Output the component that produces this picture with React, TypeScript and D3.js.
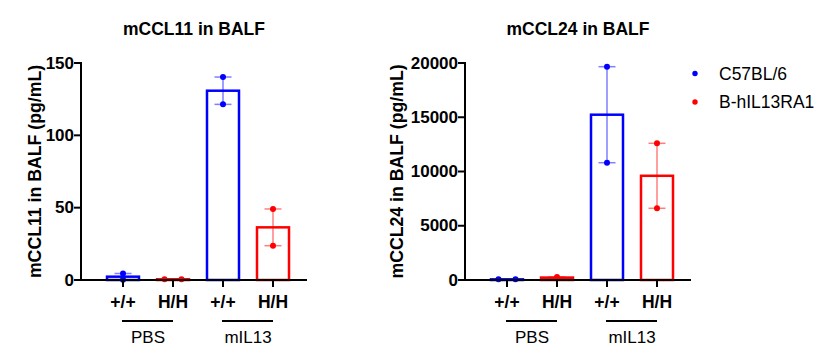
import React from "react";
import * as d3 from "d3";

const categories = ["+/+", "H/H", "+/+", "H/H"];
const groups = ["PBS", "mIL13"];
const seriesNames = ["C57BL/6", "B-hIL13RA1"];
const seriesColors = ["#0000FF", "#FF0000"];

// points per category (n=2)
const ccl11Points = [
  [4.5, 0.1],
  [0.5, 0.5],
  [140.3, 121.4],
  [49.1, 23.7],
];
const ccl24Points = [
  [60, 60],
  [280, 170],
  [19660, 10810],
  [12600, 6610],
];
const ccl11Ticks = [0, 50, 100, 150];
const ccl24Ticks = [0, 5000, 10000, 15000, 20000];

const FONT = "'Liberation Sans', Arial, sans-serif";

type PanelProps = {
  title: string;
  yLabel: string;
  points: number[][];
  ticks: number[];
  yMax: number;
  axisX: number;
  yLabelX: number;
};

function Panel({ title, yLabel, points, ticks, yMax, axisX, yLabelX }: PanelProps) {
  const y = d3.scaleLinear().domain([0, yMax]).range([280, 63]);
  const x = d3
    .scaleBand<number>()
    .domain(categories.map((_, i) => i))
    .range([axisX + 17, axisX + 217])
    .paddingInner(0.36)
    .paddingOuter(0.18);
  const bw = x.bandwidth();
  const axisEnd = axisX + 226;
  const cx = (i: number) => (x(i) as number) + bw / 2;
  const titleX = (axisX + axisEnd) / 2;
  return (
    <g>
      <text x={titleX} y={35} textAnchor="middle" fontFamily={FONT} fontWeight="bold" fontSize={17.5}>
        {title}
      </text>
      <text
        transform={`translate(${yLabelX},${(63 + 280) / 2}) rotate(-90)`}
        textAnchor="middle"
        dominantBaseline="central"
        fontFamily={FONT}
        fontWeight="bold"
        fontSize={17.7}
      >
        {yLabel}
      </text>
      {/* bars */}
      {points.map((pts, i) => {
        const mean = d3.mean(pts) as number;
        const color = seriesColors[i % 2];
        return (
          <rect
            key={"b" + i}
            x={x(i)}
            y={y(mean)}
            width={bw}
            height={y(0) - y(mean)}
            fill="none"
            stroke={color}
            strokeWidth={2.5}
          />
        );
      })}
      {/* error bars + points */}
      {points.map((pts, i) => {
        const color = seriesColors[i % 2];
        const lo = d3.min(pts) as number;
        const hi = d3.max(pts) as number;
        const c = cx(i);
        const spread = Math.abs(y(pts[0]) - y(pts[1])) < 1;
        return (
          <g key={"e" + i}>
            <g stroke={color} strokeOpacity={0.5} strokeWidth={1.5}>
              <line x1={c} x2={c} y1={y(lo)} y2={y(hi)} />
              <line x1={c - 8.5} x2={c + 8.5} y1={y(lo)} y2={y(lo)} />
              <line x1={c - 8.5} x2={c + 8.5} y1={y(hi)} y2={y(hi)} />
            </g>
            {pts.map((v, j) => (
              <circle
                key={j}
                cx={spread ? c + (j === 0 ? -8.5 : 8.5) : c}
                cy={y(v)}
                r={3}
                fill={color}
              />
            ))}
          </g>
        );
      })}
      {/* y axis */}
      <line x1={axisX} x2={axisX} y1={62} y2={281} stroke="#000" strokeWidth={2} />
      {ticks.map((t) => (
        <g key={t}>
          <line x1={axisX - 7} x2={axisX} y1={y(t)} y2={y(t)} stroke="#000" strokeWidth={2} />
          <text
            x={axisX - 7}
            y={y(t)}
            textAnchor="end"
            dominantBaseline="central"
            fontFamily={FONT}
            fontWeight="bold"
            fontSize={17}
          >
            {t}
          </text>
        </g>
      ))}
      {/* x axis */}
      <line x1={axisX - 1} x2={axisEnd} y1={280} y2={280} stroke="#000" strokeWidth={2} />
      {categories.map((c, i) => (
        <g key={"c" + i}>
          <line x1={cx(i)} x2={cx(i)} y1={280} y2={287} stroke="#000" strokeWidth={2} />
          <text x={cx(i)} y={308} textAnchor="middle" fontFamily={FONT} fontWeight="bold" fontSize={17.5}>
            {c}
          </text>
        </g>
      ))}
      {groups.map((g, k) => {
        const a = cx(k * 2);
        const b = cx(k * 2 + 1);
        return (
          <g key={g}>
            <line x1={a - 1} x2={b} y1={321} y2={321} stroke="#000" strokeWidth={2} />
            <text x={(a + b) / 2} y={343} textAnchor="middle" fontFamily={FONT} fontSize={17}>
              {g}
            </text>
          </g>
        );
      })}
    </g>
  );
}

export default function App() {
  return (
    <svg width={824} height={353} style={{ position: "absolute", left: 0, top: 0, background: "#fff" }}>
      <rect width={824} height={353} fill="#fff" />
      <Panel
        title="mCCL11 in BALF"
        yLabel="mCCL11 in BALF (pg/mL)"
        points={ccl11Points}
        ticks={ccl11Ticks}
        yMax={150}
        axisX={81}
        yLabelX={35}
      />
      <Panel
        title="mCCL24 in BALF"
        yLabel="mCCL24 in BALF (pg/mL)"
        points={ccl24Points}
        ticks={ccl24Ticks}
        yMax={20000}
        axisX={465}
        yLabelX={397}
      />
      {seriesNames.map((s, i) => (
        <g key={s}>
          <circle cx={695} cy={73.5 + i * 28.5} r={2.7} fill={seriesColors[i]} />
          <text x={719} y={73.5 + i * 28.5} dominantBaseline="central" fontFamily={FONT} fontSize={17.5}>
            {s}
          </text>
        </g>
      ))}
    </svg>
  );
}
